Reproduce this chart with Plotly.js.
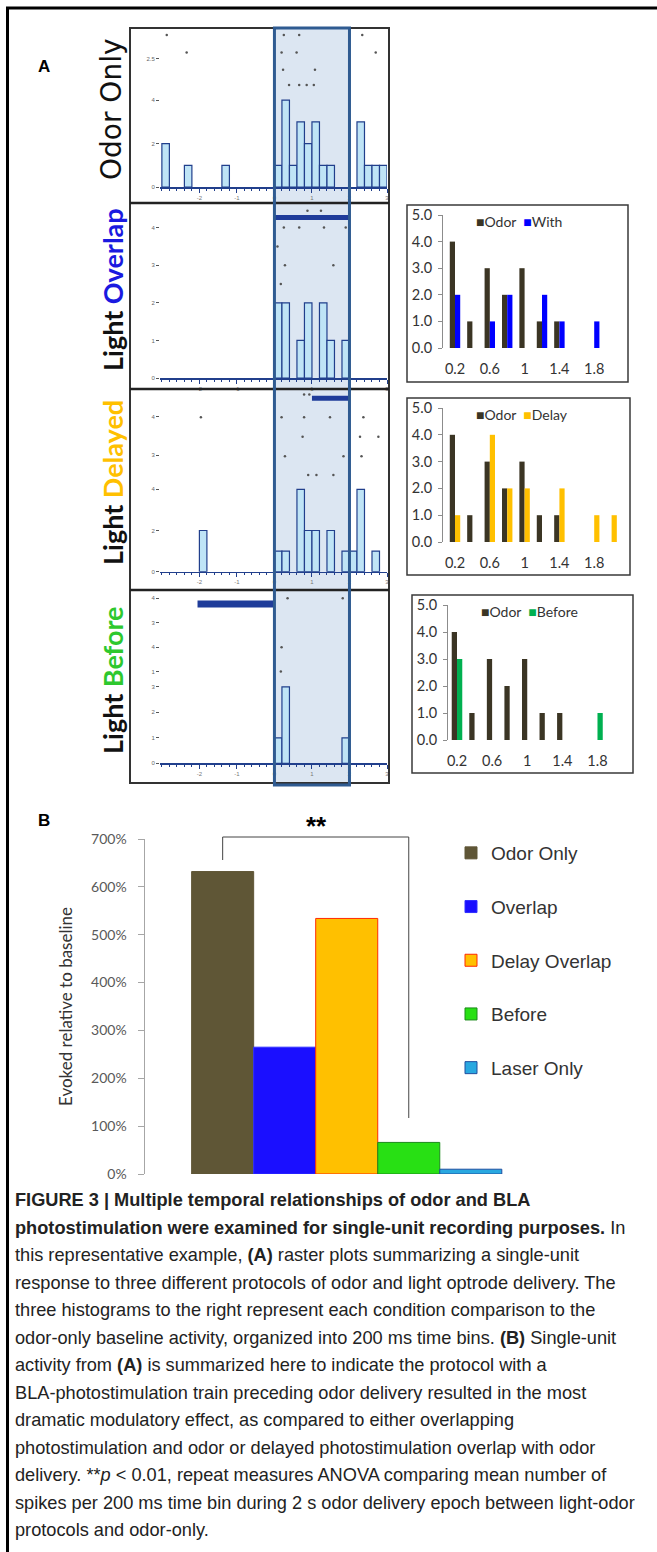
<!DOCTYPE html>
<html><head><meta charset="utf-8">
<script src="https://cdn.plot.ly/plotly-3.0.1.min.js"></script>
<style>html,body{margin:0;padding:0;background:#fff;}#chart{width:657px;height:1552px;}</style>
</head><body><div id="chart"></div>
<script>
// ================= DATA =================
// Panel A: peri-stimulus histograms (bin start time in s, count per 200 ms bin)
const odorOnlyBins    = [-3.0,-2.4,-1.4,0,0.2,0.4,0.6,0.8,1.0,1.2,1.4,2.2,2.4,2.6,2.8];
const odorOnlyCounts  = [2,1,1,1,4,1,3,2,3,1,1,3,1,1,1];
const overlapBins     = [0,0.2,0.6,0.8,1.2,1.4,1.8];
const overlapCounts   = [2,2,1,2,2,1,1];
const delayedBins     = [-2.0,0,0.2,0.6,0.8,1.0,1.4,1.8,2.0,2.2,2.6];
const delayedCounts   = [2,1,1,4,2,2,2,1,1,4,1];
const beforeBins      = [0,0.2,1.8];
const beforeCounts    = [1,3,1];

// Panel A: raster spikes (time in s, raster row level)
const odorOnlySpikeT   = [-2.87,0.25,0.66,2.34,-2.34,0.19,0.59,2.7,0.23,1.08,0.39,0.66,0.86,1.05];
const odorOnlySpikeRow = [7,7,7,7,6.2,6.2,6.2,6.2,5.4,5.4,4.7,4.7,4.7,4.7];
const overlapSpikeT    = [0.88,1.24,0.25,0.66,1.32,1.9,0.08,0.28,1.57,0.17];
const overlapSpikeRow  = [4.45,4.45,4,4,4,4,3.5,3,3,2.5];
const delayedSpikeT    = [0.79,0.93,-1.96,0.19,0.79,1.48,2.37,0.75,2.28,2.77,0.28,1.84,2.32,0.9,1.12,1.57];
const delayedSpikeRow  = [8.6,8.6,7.5,7.5,7.5,7.5,7.5,6.55,6.55,6.55,5.6,5.6,5.6,4.7,4.7,4.7];
const beforeSpikeT     = [0.35,1.82,0.19,0.17];
const beforeSpikeRow   = [6.47,6.47,4.55,3.6];

// Panel A: light stimulation epochs (start, end in s) and raster row
const overlapLightT   = [0,2];     const overlapLightRow = [4.27,4.27];
const delayedLightT   = [1,2];     const delayedLightRow = [8.42,8.42];
const beforeLightT    = [-2.05,0]; const beforeLightRow  = [6.25,6.25];
const odorEpoch       = [0,2];

// Panel A tick labels
const histXTickVals = [-2,-1,0,1,2,3];
const histXTickText = ["-2","-1","0","1","2","3"];
const p1YTickVals = [0,2,4,5.9];                   const p1YTickText = ["0","2","4","2.5"];
const p2YTickVals = [0,1,2,3,4];                   const p2YTickText = ["0","1","2","3","4"];
const p3YTickVals = [0,2,4,5.66,7.52];             const p3YTickText = ["0","2","4","3","4"];
const p4YTickVals = [0,1,2,3,3.59,4.55,5.51,6.47]; const p4YTickText = ["0","1","2","3","1","4","3","4"];

// Right-hand comparison histograms (200 ms bins)
const binLabels   = [0.2,0.4,0.6,0.8,1.0,1.2,1.4,1.6,1.8,2.0];
const odorCounts  = [4,1,3,2,3,1,1,0,0,0];
const withCounts  = [2,0,1,2,0,2,1,0,1,0];
const delayCounts = [1,0,4,2,2,0,2,0,1,1];
const befCounts   = [3,0,0,0,0,0,0,0,1,0];
const smallXTickVals = [0.2,0.6,1,1.4,1.8];
const smallXTickText = ["0.2","0.6","1","1.4","1.8"];
const smallYTickVals = [0,1,2,3,4,5];
const smallYTickText = ["0.0","1.0","2.0","3.0","4.0","5.0"];

// Panel B
const conditions  = ["Odor Only","Overlap","Delay Overlap","Before","Laser Only"];
const evokedPct   = [632,265,534,66,10];
const pctTickVals = [0,100,200,300,400,500,600,700];
const pctTickText = ["0%","100%","200%","300%","400%","500%","600%","700%"];

// ================= LAYOUT HELPERS =================
const W=657,H=1552;
const X=p=>p/W, Y=p=>1-p/H;
const navy='#213f8c';
const traces=[]; const layout={
  width:W,height:H,margin:{l:0,r:0,t:0,b:0},paper_bgcolor:'#fff',plot_bgcolor:'rgba(0,0,0,0)',
  barmode:'overlay',showlegend:true,font:{family:'Liberation Sans, Arial, sans-serif',color:'#222'},
  shapes:[],annotations:[]
};

// ---- Panel A histograms ----
const panels=[
  {id:'',bins:odorOnlyBins,counts:odorOnlyCounts,st:odorOnlySpikeT,sr:odorOnlySpikeRow,axis:187,top:28,unit:21.7,yv:p1YTickVals,yt:p1YTickText},
  {id:'2',bins:overlapBins,counts:overlapCounts,st:overlapSpikeT,sr:overlapSpikeRow,axis:378,top:203,unit:37.6,yv:p2YTickVals,yt:p2YTickText,lt:overlapLightT,lr:overlapLightRow,lw:5},
  {id:'3',bins:delayedBins,counts:delayedCounts,st:delayedSpikeT,sr:delayedSpikeRow,axis:571.7,top:389,unit:20.6,yv:p3YTickVals,yt:p3YTickText,lt:delayedLightT,lr:delayedLightRow,lw:5},
  {id:'4',bins:beforeBins,counts:beforeCounts,st:beforeSpikeT,sr:beforeSpikeRow,axis:763.3,top:590,unit:25.5,yv:p4YTickVals,yt:p4YTickText,lt:beforeLightT,lr:beforeLightRow,lw:7}
];
panels.forEach(p=>{
  const xa='x'+p.id, ya='y'+p.id;
  traces.push({type:'bar',x:p.bins,y:p.counts,width:0.2,offset:0,xaxis:xa,yaxis:ya,showlegend:false,
    marker:{color:'#bfe4f6',line:{color:navy,width:1.2}},hoverinfo:'skip'});
  traces.push({type:'scatter',mode:'markers',x:p.st,y:p.sr,xaxis:xa,yaxis:ya,showlegend:false,
    marker:{size:2.5,color:'#555'},hoverinfo:'skip',cliponaxis:false});
  if(p.lt){traces.push({type:'scatter',mode:'lines',x:p.lt,y:p.lr,xaxis:xa,yaxis:ya,showlegend:false,
    line:{width:p.lw,color:'#1f3c9a'},hoverinfo:'skip'});}
  layout['xaxis'+p.id]={domain:[X(160),X(387)],range:[-3.05,3.0],anchor:ya,showline:true,linecolor:navy,linewidth:1.5,
    ticks:'outside',ticklen:4,tickcolor:navy,tickwidth:1,tickvals:histXTickVals,ticktext:histXTickText,
    tickfont:{size:6,color:'#777'},showgrid:false,zeroline:false,fixedrange:true,
    minor:{ticks:'outside',ticklen:2,dtick:0.2,tick0:0,tickcolor:navy,showgrid:false}};
  layout['yaxis'+p.id]={domain:[Y(p.axis),Y(p.top)],range:[0,(p.axis-p.top)/p.unit],anchor:xa,showline:false,
    showgrid:false,zeroline:false,ticks:'outside',ticklen:3,tickcolor:'#555',tickvals:p.yv,ticktext:p.yt,
    tickfont:{size:6,color:'#666'},fixedrange:true};
});
// odor-delivery shading
layout.shapes.push({type:'rect',xref:'x',yref:'paper',x0:odorEpoch[0],x1:odorEpoch[1],y0:Y(785),y1:Y(28),
  fillcolor:'#dce6f2',line:{width:0},layer:'below'});
// panel frames
layout.shapes.push({type:'rect',xref:'paper',yref:'paper',x0:X(130),x1:X(389),y0:Y(783),y1:Y(28),line:{color:'#333',width:2}});
[203,389,590].forEach(py=>layout.shapes.push({type:'line',xref:'paper',yref:'paper',x0:X(130),x1:X(389),y0:Y(py),y1:Y(py),line:{color:'#222',width:2.5}}));
layout.shapes.push({type:'rect',xref:'x',yref:'paper',x0:odorEpoch[0],x1:odorEpoch[1],y0:Y(785),y1:Y(28),
  line:{color:'#2f5b91',width:3}});
// figure border
layout.shapes.push({type:'line',xref:'paper',yref:'paper',x0:X(6),x1:1,y0:Y(8),y1:Y(8),line:{color:'#000',width:3}});
layout.shapes.push({type:'line',xref:'paper',yref:'paper',x0:X(7.5),x1:X(7.5),y0:Y(8),y1:0,line:{color:'#000',width:3}});

// panel labels
const rot=(txt,py,fam,size,w)=>layout.annotations.push({xref:'paper',yref:'paper',x:X(112),y:Y(py),text:txt,textangle:-90,
  showarrow:false,xanchor:'center',yanchor:'middle',font:{family:fam,size:size,color:'#111',weight:w}});
rot('Odor Only',109,'DejaVu Sans',28,'normal');
rot('Light <span style="color:#1a1ae0">Overlap</span>',290,'Lato',27,'bold');
rot('Light <span style="color:#ffc000">Delayed</span>',483,'Lato',27,'bold');
rot('Light <span style="color:#2ec82e">Before</span>',680,'Lato',27,'bold');
const lab=(t,px,py,size)=>layout.annotations.push({xref:'paper',yref:'paper',x:X(px),y:Y(py),text:'<b>'+t+'</b>',showarrow:false,
  xanchor:'left',yanchor:'middle',font:{family:'Liberation Sans',size:size,color:'#000'}});
lab('A',36,67,17); lab('B',36,820,17);

// ---- right-hand comparison charts ----
const odorColor='#3b3524';
const small=[
  {id:'5',other:withCounts,name:'With',color:'#0000ff',box:[407,628,205,382],yAxis:348,yTop:215,xL:443,xR:620,c0:455,sc:87},
  {id:'6',other:delayCounts,name:'Delay',color:'#ffc000',box:[407,630,398,575],yAxis:542,yTop:408,xL:443,xR:620,c0:455,sc:87},
  {id:'7',other:befCounts,name:'Before',color:'#00b050',box:[412,633,595,773],yAxis:740,yTop:605,xL:448,xR:625,c0:457,sc:87.8}
];
small.forEach(s=>{
  const xa='x'+s.id, ya='y'+s.id;
  traces.push({type:'bar',x:binLabels,y:odorCounts,width:0.06,offset:-0.06,xaxis:xa,yaxis:ya,showlegend:false,marker:{color:odorColor},hoverinfo:'skip'});
  traces.push({type:'bar',x:binLabels,y:s.other,width:0.06,offset:0,xaxis:xa,yaxis:ya,showlegend:false,marker:{color:s.color},hoverinfo:'skip'});
  layout['xaxis'+s.id]={domain:[X(s.xL),X(s.xR)],range:[0.2-(s.c0-s.xL)/s.sc,0.2+(s.xR-s.c0)/s.sc],anchor:ya,showline:false,
    showgrid:false,zeroline:false,ticks:'outside',ticklen:8,tickcolor:'rgba(0,0,0,0)',tickvals:smallXTickVals,ticktext:smallXTickText,
    tickfont:{family:'Lato',size:14.5,color:'#333'},fixedrange:true};
  layout['yaxis'+s.id]={domain:[Y(s.yAxis),Y(s.yTop)],range:[0,5],anchor:xa,showline:true,linecolor:'#8c8c8c',linewidth:1,
    showgrid:false,zeroline:false,ticks:'outside',ticklen:4,tickcolor:'#8c8c8c',tickvals:smallYTickVals,ticktext:smallYTickText,
    tickfont:{family:'Lato',size:14.5,color:'#333'},ticklabelstandoff:3,fixedrange:true};
  layout.shapes.push({type:'rect',xref:'paper',yref:'paper',x0:X(s.box[0]),x1:X(s.box[1]),y0:Y(s.box[3]),y1:Y(s.box[2]),line:{color:'#3a3a3a',width:1.5}});
  layout.annotations.push({xref:'paper',yref:'paper',x:X(s.box[0]+67),y:Y(s.yTop+7),xanchor:'left',yanchor:'middle',showarrow:false,
    text:'<span style="color:'+odorColor+'">■</span>Odor  <span style="color:'+s.color+'">■</span>'+s.name,
    font:{family:'Lato',size:14,color:'#333'}});
});

// ---- Panel B ----
const bFill=['#5f5636','#1a0fff','#ffc000','#28e014','#29a8e0'];
const bLine=['#5f5636','#3030ff','#ff2a00','#1a8a1a','#1f4fa0'];
conditions.forEach((c,i)=>{
  traces.push({type:'bar',x:[c],y:[evokedPct[i]],name:c,width:1,xaxis:'x8',yaxis:'y8',legendgroup:'g'+i,
    marker:{color:bFill[i],line:{color:bLine[i],width:1}},hoverinfo:'skip'});
});
layout.xaxis8={domain:[X(144.5),X(508)],range:[-1.26,4.6],anchor:'y8',type:'category',categoryorder:'array',categoryarray:conditions,
  showticklabels:false,showline:false,showgrid:false,zeroline:false,ticks:'',fixedrange:true};
layout.yaxis8={domain:[Y(1174),Y(839)],range:[0,700],anchor:'x8',showline:true,linecolor:'#a6a6a6',linewidth:1,
  showgrid:false,zeroline:false,ticks:'outside',ticklen:6,tickcolor:'#a6a6a6',tickvals:pctTickVals,ticktext:pctTickText,
  tickfont:{family:'Lato',size:14,color:'#595959'},ticklabelstandoff:8,fixedrange:true,
  title:{text:'Evoked relative to baseline',font:{family:'Lato',size:17,color:'#333'},standoff:14}};
layout.legend={x:X(451),y:Y(834),xanchor:'left',yanchor:'top',traceorder:'grouped',tracegroupgap:26,
  bgcolor:'rgba(0,0,0,0)',font:{family:'Liberation Sans',size:19,color:'#333'}};
// significance bracket (Odor Only vs Before)
layout.shapes.push({type:'line',xref:'x8',yref:'paper',x0:0,x1:0,y0:Y(860),y1:Y(837),line:{color:'#444',width:1}});
layout.shapes.push({type:'line',xref:'x8',yref:'paper',x0:0,x1:3,y0:Y(837),y1:Y(837),line:{color:'#444',width:1}});
layout.shapes.push({type:'line',xref:'x8',yref:'paper',x0:3,x1:3,y0:Y(837),y1:Y(1118),line:{color:'#444',width:1}});
layout.annotations.push({xref:'paper',yref:'paper',x:X(316),y:Y(826),text:'<b>**</b>',showarrow:false,xanchor:'center',yanchor:'middle',
  font:{family:'Liberation Sans',size:26,color:'#000'}});

// ---- Caption ----
const caption=[
 '<b>FIGURE 3 | Multiple temporal relationships of odor and BLA</b>',
 '<b>photostimulation were examined for single-unit recording purposes.</b> In',
 'this representative example, <b>(A)</b> raster plots summarizing a single-unit',
 'response to three different protocols of odor and light optrode delivery. The',
 'three histograms to the right represent each condition comparison to the',
 'odor-only baseline activity, organized into 200 ms time bins. <b>(B)</b> Single-unit',
 'activity from <b>(A)</b> is summarized here to indicate the protocol with a',
 'BLA-photostimulation train preceding odor delivery resulted in the most',
 'dramatic modulatory effect, as compared to either overlapping',
 'photostimulation and odor or delayed photostimulation overlap with odor',
 'delivery. **<i>p</i> &lt; 0.01, repeat measures ANOVA comparing mean number of',
 'spikes per 200 ms time bin during 2 s odor delivery epoch between light-odor',
 'protocols and odor-only.'
];
caption.forEach((t,i)=>layout.annotations.push({xref:'paper',yref:'paper',x:X(13),y:Y(1200+i*27.5),text:t,showarrow:false,
  xanchor:'left',yanchor:'middle',font:{family:'Liberation Sans',size:18.2,color:'#222'}}));

Plotly.newPlot('chart',traces,layout,{displayModeBar:false,staticPlot:true});
</script></body></html>
